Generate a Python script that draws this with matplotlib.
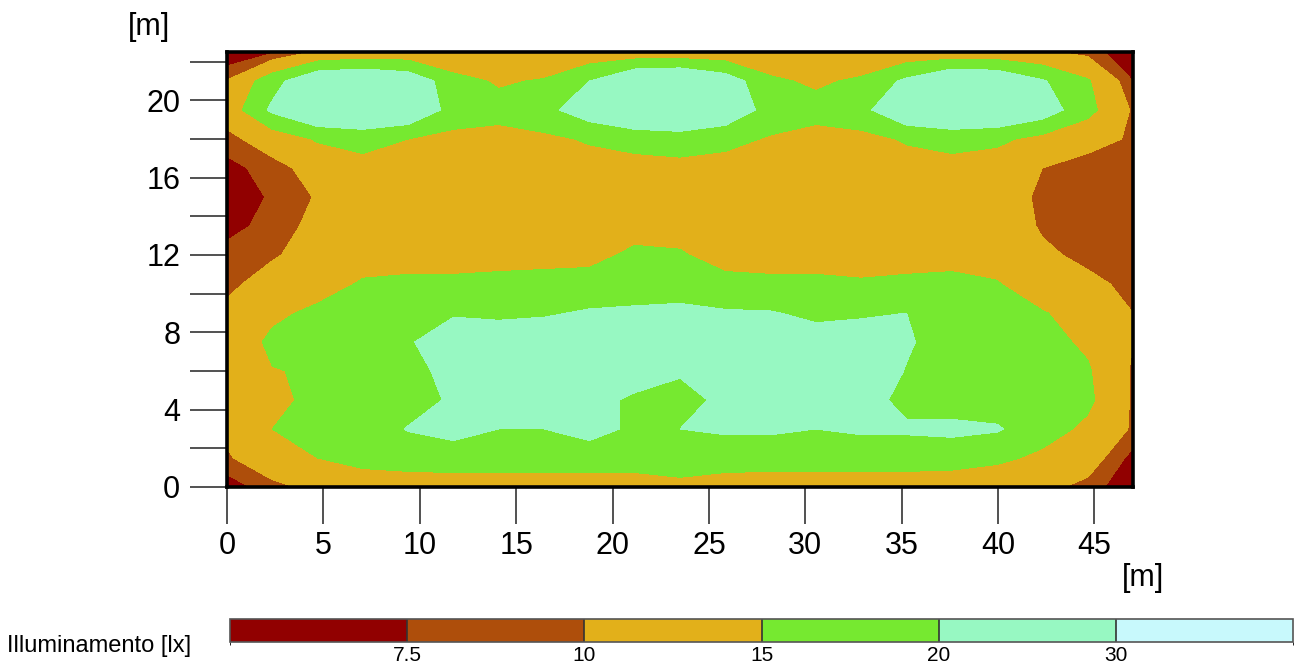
import numpy as np
import matplotlib
matplotlib.use("Agg")
import matplotlib.pyplot as plt
from matplotlib.colors import ListedColormap, BoundaryNorm
from matplotlib.cm import ScalarMappable

plt.rcParams['font.family'] = ['Liberation Sans', 'DejaVu Sans']

# calculation grid (m)
x_pos = [0, 2.35, 4.7, 7.05, 9.4, 11.75, 14.1, 16.45, 18.8, 21.15, 23.5,
         25.85, 28.2, 30.55, 32.9, 35.25, 37.6, 39.95, 42.3, 44.65, 47]
y_pos = [0, 1.5, 3, 4.5, 6, 7.5, 9, 10.5, 12, 13.5, 15, 16.5, 18, 19.5, 21, 22.5]

# illuminance values [lx], one row per y position (bottom to top)
lux = [
    [6, 9, 11, 11.5, 11.5, 11.5, 11.5, 11.5, 11.5, 12, 13.5, 12, 11.5, 11.5, 11.5, 11.5, 11.5, 11.5, 11, 9, 5],
    [9.5, 13, 15, 17, 18, 18.5, 18.5, 18.5, 18.5, 18, 18, 18, 18, 18, 18, 18, 17.5, 16, 14, 12, 6.5],
    [11, 15, 17, 18, 20.2, 21, 20, 20, 21, 19.5, 20, 20.5, 20.5, 20, 20.5, 20.5, 21, 20.5, 17, 14, 9.5],
    [11.5, 14, 16, 17.5, 18.5, 20.5, 21, 22, 22, 19, 18.5, 21, 22, 22, 21.5, 19, 18, 17.5, 17, 16, 9.5],
    [11.5, 14.8, 15.5, 17.5, 19, 21, 23, 23, 23, 23, 20.5, 22, 23, 23, 23, 19.8, 18, 17.5, 17, 15.5, 9.5],
    [11.5, 16, 17.5, 18, 19.5, 23, 23, 23, 23, 23, 23, 23, 23, 22, 22, 20.5, 18, 17.5, 16.5, 14.2, 10],
    [11, 14, 16, 17.5, 18, 19.5, 19, 19.5, 20.5, 21, 21.5, 20.5, 20.3, 19, 19.5, 20, 18.5, 17, 15.3, 13, 10],
    [9, 12, 13, 15.5, 16, 16, 16.5, 17, 17, 17, 17, 16.5, 16, 16, 15.5, 16, 16.5, 15.3, 12, 11, 9],
    [8.5, 9.5, 12, 13, 13, 13, 13, 13, 13.5, 16, 15.5, 13, 13, 13, 13, 13, 13, 13, 10.8, 9, 9],
    [6.5, 8.5, 11, 13, 13, 13, 13, 13, 13, 13, 13, 13, 13, 13, 13, 13, 13, 13, 9.5, 8.5, 9],
    [6, 7.8, 10.3, 13, 13, 13, 13, 13, 13, 13, 13, 13, 13, 13, 13, 13, 13, 13, 9, 8, 9],
    [6.5, 8.8, 11.5, 13, 13, 13, 13, 13, 13, 13, 13.5, 13, 13, 13, 13, 13, 13, 12.5, 10, 8.5, 9],
    [9, 12, 15.5, 17, 15, 13.5, 13, 14, 15.5, 17, 17.5, 16.5, 14.5, 13, 13.5, 15.5, 17, 16, 13.5, 11.5, 9.5],
    [12, 21, 26, 26, 25, 18, 17, 18.5, 23, 26, 27, 24, 18, 17, 18.5, 25, 26, 26, 23, 16.5, 9.5],
    [10.2, 18, 25, 26, 24, 17, 14.3, 15.5, 20, 26, 27, 23, 16, 14, 16, 21, 26, 25, 20.5, 15.5, 7.5],
    [5, 7, 10.5, 11.5, 11.5, 9.8, 10.5, 9.7, 11.5, 11.5, 11.5, 11.5, 10.5, 10.5, 9.7, 11.5, 11.5, 11.5, 10.5, 9, 5],
]

levels = [0, 7.5, 10, 15, 20, 30, 40]
level_ticks = [7.5, 10, 15, 20, 30]
colors = ['#910000', '#AE4E0B', '#E2B01A', '#76E930', '#97F8C2', '#C8F9FC']

cmap = ListedColormap(colors)
norm = BoundaryNorm(levels, cmap.N)

X, Y = np.meshgrid(x_pos, y_pos)
Z = np.array(lux)

fig = plt.figure(figsize=(13, 6.71), dpi=100)
ax = fig.add_axes([227 / 1300, 1 - 487 / 671, 906 / 1300, 435 / 671])
ax.contourf(X, Y, Z, levels=levels, cmap=cmap, norm=norm)

ax.set_xlim(0, 47)
ax.set_ylim(0, 22.5)
ax.set_xticks(range(0, 50, 5))
ax.set_yticks(range(0, 24, 4))
ax.set_yticks(range(2, 24, 4), minor=True)
ax.tick_params(axis='both', which='both', length=26.6, width=1.1, color='#222222',
               labelsize=22)
ax.tick_params(axis='x', pad=5)
ax.tick_params(axis='y', pad=7)
for s in ax.spines.values():
    s.set_linewidth(2.6)
    s.set_color('black')
    s.set_zorder(5)

fig.text(149 / 1300, 1 - 27 / 671, '[m]', ha='center', va='center', fontsize=22)
fig.text(1143 / 1300, 1 - 578 / 671, '[m]', ha='center', va='center', fontsize=22)

# legend bar
cax = fig.add_axes([230 / 1300, 1 - 642 / 671, 1063 / 1300, 23 / 671])
cb = fig.colorbar(ScalarMappable(norm=norm, cmap=cmap), cax=cax,
                  orientation='horizontal', ticks=level_ticks,
                  spacing='uniform', drawedges=True)
cb.ax.set_xticklabels(['7.5', '10', '15', '20', '30'])
cb.ax.tick_params(length=0, labelsize=15, pad=3)
cb.outline.set_edgecolor('#555555')
cb.outline.set_linewidth(1.2)
cb.dividers.set_color('#333333')
cb.dividers.set_linewidth(1.2)

fig.text(7 / 1300, 1 - 646 / 671, 'Illuminamento [lx]', ha='left', va='center',
         fontsize=17)

fig.savefig('out.png', dpi=100)
